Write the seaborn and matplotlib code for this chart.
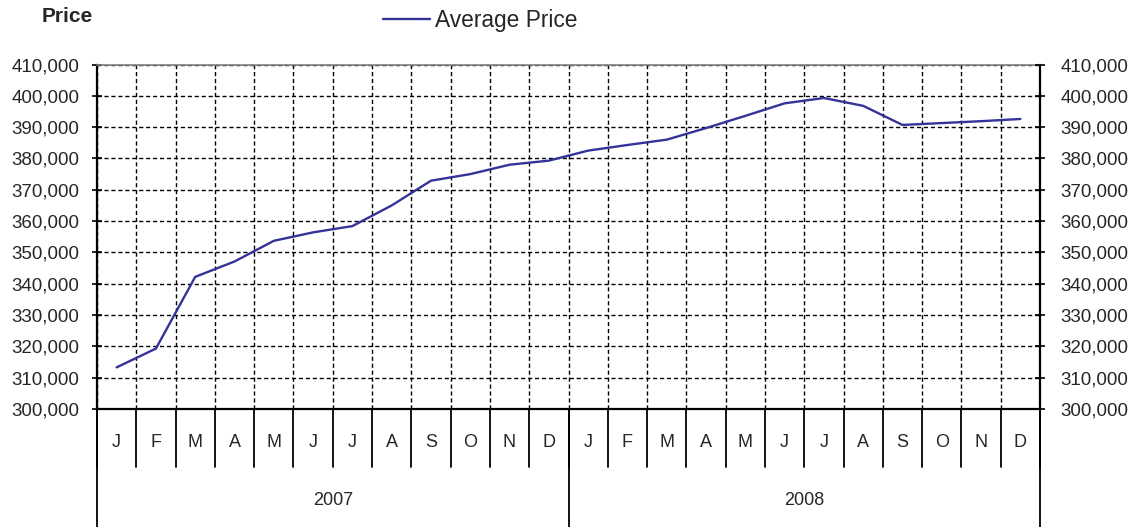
import numpy as np
import pandas as pd
import seaborn as sns
import matplotlib
matplotlib.use("Agg")
import matplotlib.pyplot as plt

# data
months = ["J", "F", "M", "A", "M", "J", "J", "A", "S", "O", "N", "D",
          "J", "F", "M", "A", "M", "J", "J", "A", "S", "O", "N", "D"]
years = ["2007", "2008"]
prices = [313300, 319300, 342200, 347100, 353700, 356400, 358400, 365000,
          372900, 375000, 378000, 379300, 382500, 384300, 386000, 389700,
          393600, 397600, 399300, 396800, 390700, 391300, 391900, 392600]
yticks = list(range(300000, 410001, 10000))

df = pd.DataFrame({"pos": np.arange(len(prices)), "price": prices})

sns.set_style("white")
plt.rcParams["font.family"] = ["Liberation Sans", "DejaVu Sans"]

fig = plt.figure(figsize=(11.34, 5.27), dpi=100)
ax = fig.add_axes([97/1134, 1-409/527, (1040-97)/1134, (409-64.5)/527])

sns.lineplot(data=df, x="pos", y="price", color="#333399", linewidth=1.7,
             label="Average Price", ax=ax, legend=False)

ax.set_xlim(-0.5, len(prices)-0.5)
ax.set_ylim(300000, 410000)
ax.set_yticks(yticks)
ax.set_yticklabels([f"{v:,}" for v in yticks], fontsize=13.5)
ax.set_xticks([])
ax.set_xticks(np.arange(-0.5, len(prices)), minor=True)
ax.set_xlabel("")
ax.set_ylabel("")

# dashed grid
ax.grid(True, which="minor", axis="x", color="black", linestyle=(0, (3, 2)), linewidth=1)
ax.grid(True, which="major", axis="y", color="black", linestyle=(0, (3, 2)), linewidth=1)
ax.tick_params(axis="x", which="minor", length=0)
ax.tick_params(axis="y", direction="inout", length=7, width=1.2, color="black", pad=9)

for s in ["left", "right", "bottom"]:
    ax.spines[s].set_color("black")
    ax.spines[s].set_linewidth(1.6)
ax.spines["top"].set_color("#808080")
ax.spines["top"].set_linewidth(1.2)

# right axis copy
ax2 = ax.twinx()
ax2.set_ylim(ax.get_ylim())
ax2.set_yticks(yticks)
ax2.set_yticklabels([f"{v:,}" for v in yticks], fontsize=13.5)
ax2.tick_params(axis="y", direction="inout", length=7, width=1.2, color="black", pad=11)
for s in ax2.spines.values():
    s.set_visible(False)
ax2.grid(False)

# month / year category labels below the axis
tr = ax.get_xaxis_transform()
for i, m in enumerate(months):
    ax.text(i, -0.097, m, transform=tr, ha="center", va="center", fontsize=13)
for b in np.arange(-0.5, len(months)):
    ax.plot([b, b], [0, -0.1676], transform=tr, color="black", lw=1.3, clip_on=False)
for j, y in enumerate(years):
    ax.text(j*12 + 5.5, -0.266, y, transform=tr, ha="center", va="center", fontsize=13)
for b in [-0.5, 11.5, 23.5]:
    ax.plot([b, b], [0, -0.345], transform=tr, color="black", lw=1.3, clip_on=False)

fig.text(42/1134, 1-17/527, "Price", fontsize=15, fontweight="bold", va="center", ha="left")

handles, labels = ax.get_legend_handles_labels()
fig.legend(handles, labels, loc="center left", bbox_to_anchor=(383/1134, 1-20/527),
           frameon=False, fontsize=16.4, handlelength=2.06, handletextpad=0.22,
           borderpad=0, borderaxespad=0)

fig.savefig("out.png", dpi=100)
